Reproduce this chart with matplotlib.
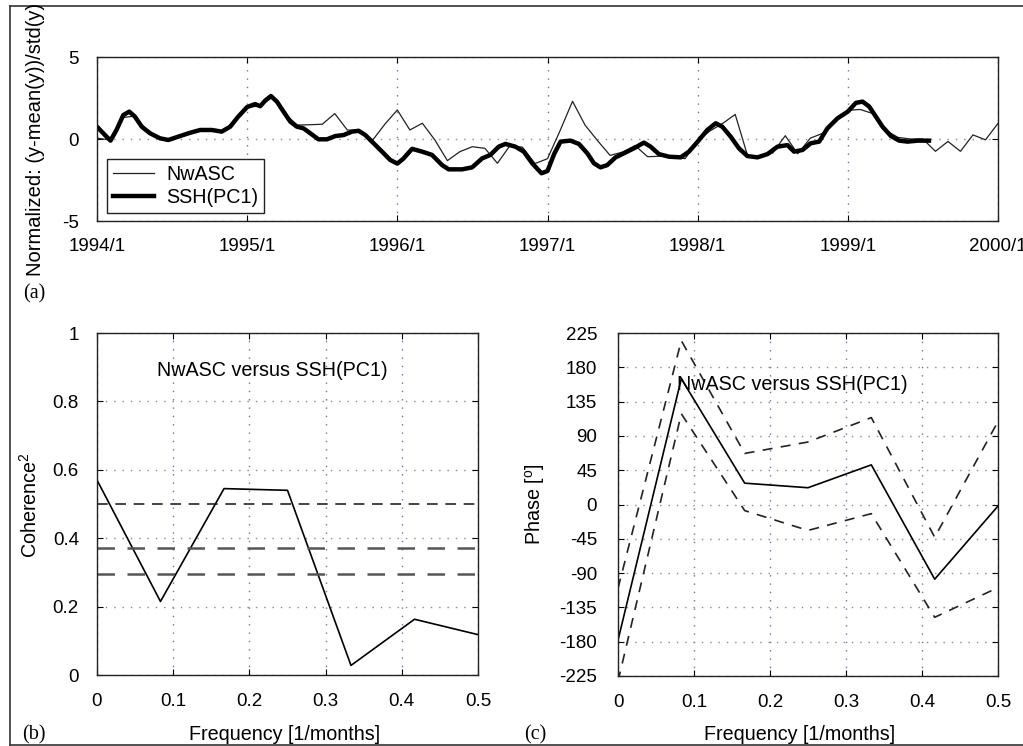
import numpy as np
import matplotlib.pyplot as plt
from matplotlib.lines import Line2D

W, H = 1023, 746

# ---- (a) time series ------------------------------------------------
# NwASC: monthly values, 1994/1 .. 2000/1
nwasc = [0.05, -0.05, 1.3, 1.4, 0.5, 0.05, 0.0, 0.28, 0.5, 0.55, 0.45, 1.1,
         1.95, 2.0, 2.55, 1.55, 0.85, 0.87, 0.9, 1.55, 0.55, 0.5, -0.1, 0.9,
         1.77, 0.55, 0.96, -0.06, -1.32, -0.77, -0.47, -0.57, -1.48, -0.4, -0.5, -1.5,
         -1.2, 0.5, 2.3, 0.85, -0.1, -1.0, -0.8, -0.4, -1.08, -1.05, -1.1, -1.2,
         -0.1, 0.5, 0.95, 1.5, -1.05, -1.1, -0.85, 0.2, -0.9, 0.05, 0.35, 1.2,
         1.75, 1.8, 1.55, 0.55, 0.1, 0.0, 0.0, -0.75, -0.15, -0.75, 0.25, -0.05,
         0.95]
nwasc_t = 1994 + np.arange(len(nwasc)) / 12

# SSH(PC1) (decimal year, value)
ssh_t = [1994.0, 1994.053, 1994.09, 1994.13, 1994.175, 1994.215, 1994.253, 1994.298,
         1994.353, 1994.42, 1994.475, 1994.54, 1994.62, 1994.687, 1994.765, 1994.83,
         1994.887, 1994.94, 1995.0, 1995.053, 1995.087, 1995.12, 1995.158, 1995.198,
         1995.242, 1995.287, 1995.331, 1995.375, 1995.42, 1995.475, 1995.531, 1995.587,
         1995.642, 1995.698, 1995.742, 1995.787, 1995.842, 1995.898, 1995.953, 1996.0,
         1996.04, 1996.098, 1996.165, 1996.231, 1996.298, 1996.342, 1996.431, 1996.498,
         1996.565, 1996.62, 1996.675, 1996.72, 1996.787, 1996.842, 1996.898, 1996.96,
         1997.0, 1997.045, 1997.087, 1997.153, 1997.209, 1997.265, 1997.309, 1997.353,
         1997.398, 1997.453, 1997.509, 1997.575, 1997.642, 1997.687, 1997.742, 1997.809,
         1997.887, 1997.942, 1998.0, 1998.064, 1998.12, 1998.164, 1998.22, 1998.275,
         1998.331, 1998.398, 1998.465, 1998.531, 1998.598, 1998.642, 1998.698, 1998.753,
         1998.809, 1998.864, 1998.931, 1999.0, 1999.053, 1999.098, 1999.142, 1999.187,
         1999.231, 1999.287, 1999.342, 1999.398, 1999.465, 1999.54]
ssh_v = [0.75, 0.24, -0.1, 0.55, 1.46, 1.67, 1.36, 0.75,
         0.35, 0.04, -0.06, 0.14, 0.38, 0.55, 0.55, 0.45,
         0.75, 1.36, 1.95, 2.13, 2.0, 2.34, 2.62, 2.28,
         1.67, 1.06, 0.75, 0.65, 0.35, -0.02, -0.02, 0.18,
         0.24, 0.45, 0.5, 0.24, -0.26, -0.77, -1.28, -1.5,
         -1.2, -0.6, -0.77, -0.97, -1.59, -1.85, -1.85, -1.73,
         -1.18, -0.97, -0.47, -0.3, -0.47, -0.77, -1.48, -2.09,
         -1.95, -0.9, -0.16, -0.1, -0.3, -0.87, -1.48, -1.73,
         -1.59, -1.12, -0.87, -0.57, -0.22, -0.47, -0.92, -1.08,
         -1.12, -0.77, -0.16, 0.55, 0.96, 0.75, 0.14, -0.57,
         -1.04, -1.12, -0.92, -0.47, -0.37, -0.77, -0.67, -0.26,
         -0.16, 0.65, 1.26, 1.67, 2.2, 2.28, 1.98, 1.36,
         0.75, 0.18, -0.1, -0.16, -0.1, -0.1]

years = [1994, 1995, 1996, 1997, 1998, 1999, 2000]
year_labels = ["1994/1", "1995/1", "1996/1", "1997/1", "1998/1", "1999/1", "2000/1"]

# ---- (b) coherence, (c) phase ----------------------------------------
freq = [0.0, 0.0833, 0.1667, 0.25, 0.3333, 0.4167, 0.5]
coh2 = [0.57, 0.215, 0.545, 0.54, 0.028, 0.163, 0.118]
coh_levels = [0.50, 0.37, 0.295]
phase = [-178, 165, 28, 22, 52, -98, -2]
phase_hi = [-110, 215, 67, 82, 114, -43, 109]
phase_lo = [-232, 119, -8, -34, -12, -148, -109]

plt.rcParams.update({
    "font.family": ["Liberation Sans", "DejaVu Sans"],
    "font.size": 13.5,
    "axes.unicode_minus": False,
    "mathtext.fontset": "custom",
    "mathtext.rm": "Liberation Sans",
    "mathtext.it": "Liberation Sans:italic",
    "xtick.direction": "in", "ytick.direction": "in",
    "xtick.top": True, "ytick.right": True,
    "xtick.major.size": 4, "ytick.major.size": 4,
    "axes.linewidth": 1.0, "axes.edgecolor": "#222222",
})

GRID_X = "#6f6fb0"
GRID_Y = "#8a8a8a"
DOT = (0, (1, 5))
LAB = 14.2


def px_box(left, top, right, bottom):
    return [left / W, 1 - bottom / H, (right - left) / W, (bottom - top) / H]


def style_grid(ax):
    ax.grid(True, axis="x", linestyle=DOT, color=GRID_X, lw=1.0)
    ax.grid(True, axis="y", linestyle=DOT, color=GRID_Y, lw=1.0)
    ax.set_axisbelow(True)


fig = plt.figure(figsize=(W / 100, H / 100), dpi=100)

# outer frame (right edge is cropped in the original)
for xs, ys in [([10, W], [6, 6]), ([10, 10], [6, 745]), ([10, W], [745, 745])]:
    fig.add_artist(Line2D([x / W for x in xs], [1 - y / H for y in ys],
                          color="#333333", lw=1.2))

# ── (a) ────────────────────────────────────────────────────────────────
ax1 = fig.add_axes(px_box(97, 57, 998, 221))
ax1.plot(nwasc_t, nwasc, color="#222222", lw=0.9, label="NwASC")
ax1.plot(ssh_t, ssh_v, color="black", lw=3.2, label="SSH(PC1)",
         solid_joinstyle="round")
ax1.set_xlim(1994, 2000)
ax1.set_ylim(-5, 5)
ax1.set_xticks(years)
ax1.set_xticklabels(year_labels)
ax1.set_yticks([-5, 0, 5])
ax1.tick_params(axis="x", pad=12)
ax1.tick_params(axis="y", pad=13)
style_grid(ax1)
leg = ax1.legend(loc="lower left", bbox_to_anchor=(0.011, 0.049),
                 borderaxespad=0, fancybox=False, framealpha=1,
                 edgecolor="#222222", handlelength=2.1, handletextpad=0.6,
                 labelspacing=0.2, borderpad=0.3, fontsize=LAB)
leg.get_frame().set_linewidth(1.0)
fig.text(36 / W, 1 - 139 / H, "Normalized: (y-mean(y))/std(y)", rotation=90,
         ha="center", va="center", fontsize=14.5)
fig.text(34 / W, 1 - 294 / H, "(a)", family="Liberation Serif",
         ha="center", va="center", fontsize=14.5)

# ── (b) ────────────────────────────────────────────────────────────────
ax2 = fig.add_axes(px_box(97, 333, 478, 675))
ax2.plot(freq, coh2, color="black", lw=1.2)
for lev, col, lw in zip(coh_levels, ["#111111", "#555555", "#555555"], [1.1, 1.8, 1.8]):
    ax2.axhline(lev, color=col, lw=lw, dashes=(7, 5))
ax2.set_xlim(0, 0.5)
ax2.set_ylim(0, 1)
ax2.set_xticks([0, 0.1, 0.2, 0.3, 0.4, 0.5])
ax2.set_xticklabels(["0", "0.1", "0.2", "0.3", "0.4", "0.5"])
ax2.set_yticks([0, 0.2, 0.4, 0.6, 0.8, 1])
ax2.set_yticklabels(["0", "0.2", "0.4", "0.6", "0.8", "1"])
ax2.tick_params(axis="x", pad=13)
ax2.tick_params(axis="y", pad=13)
style_grid(ax2)
ax2.text(0.23, 0.89, "NwASC versus SSH(PC1)", ha="center", va="center",
         fontsize=LAB)
fig.text(30 / W, 1 - 505 / H, "Coherence$^2$", rotation=90,
         ha="center", va="center", fontsize=LAB)
fig.text(285 / W, 1 - 734 / H, "Frequency [1/months]",
         ha="center", va="center", fontsize=LAB)
fig.text(34 / W, 1 - 735 / H, "(b)", family="Liberation Serif",
         ha="center", va="center", fontsize=14.5)

# ── (c) ────────────────────────────────────────────────────────────────
ax3 = fig.add_axes(px_box(618, 333, 998, 676))
ax3.plot(freq, phase, color="black", lw=1.2)
ax3.plot(freq, phase_hi, color="#222222", lw=1.2, dashes=(6, 5))
ax3.plot(freq, phase_lo, color="#222222", lw=1.2, dashes=(6, 5))
ax3.set_xlim(0, 0.5)
ax3.set_ylim(-225, 225)
ax3.set_xticks([0, 0.1, 0.2, 0.3, 0.4, 0.5])
ax3.set_xticklabels(["0", "0.1", "0.2", "0.3", "0.4", "0.5"])
ax3.set_yticks(np.arange(-225, 226, 45))
ax3.tick_params(axis="x", pad=13)
ax3.tick_params(axis="y", pad=15)
style_grid(ax3)
ax3.text(0.23, 157, "NwASC versus SSH(PC1)", ha="center", va="center",
         fontsize=LAB)
fig.text(535 / W, 1 - 504 / H, "Phase [$^{\\mathrm{o}}$]", rotation=90,
         ha="center", va="center", fontsize=LAB)
fig.text(800 / W, 1 - 734 / H, "Frequency [1/months]",
         ha="center", va="center", fontsize=LAB)
fig.text(535 / W, 1 - 735 / H, "(c)", family="Liberation Serif",
         ha="center", va="center", fontsize=14.5)

fig.savefig("out.png", dpi=100, facecolor="white")
